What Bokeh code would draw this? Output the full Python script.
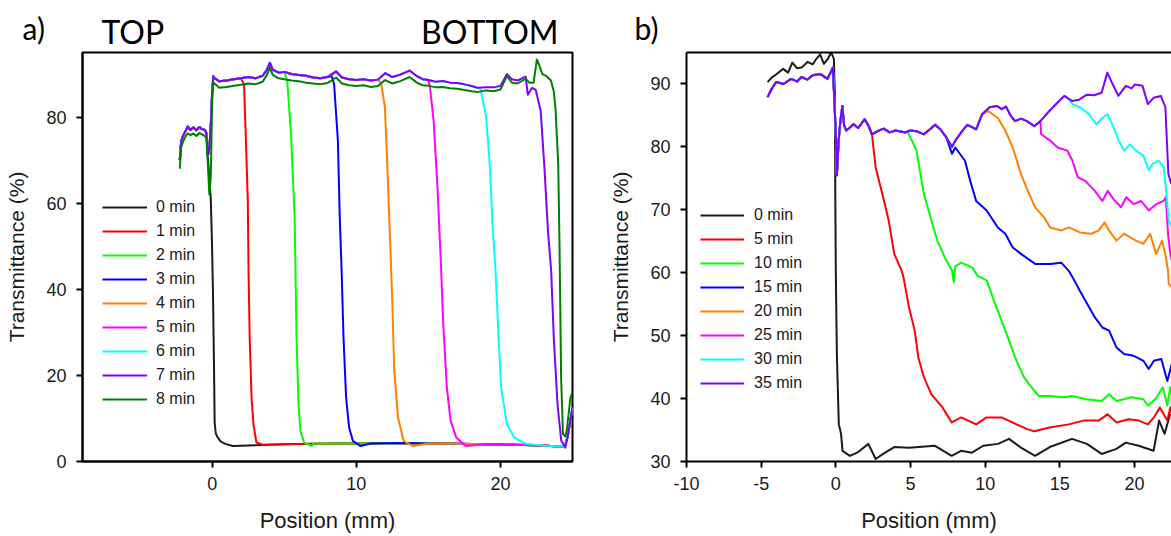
from bokeh.plotting import figure
from bokeh.models import Legend, LegendItem, FixedTicker, Range1d, LinearAxis
from bokeh.layouts import row, column
from bokeh.core.properties import value
from bokeh.embed import file_html
from bokeh.resources import INLINE

# ---------------- Panel a data ----------------
A_LABELS = ["0 min", "1 min", "2 min", "3 min", "4 min", "5 min", "6 min", "7 min", "8 min"]
A_COLORS = ["#1a1a1a", "#ff0000", "#00ff00", "#0000ff", "#ff8000", "#ff00ff", "#00ffff", "#8000ff", "#008000"]

# shared lead-in segment (x < 0)
A_LEAD_X = [-2.25, -2.15, -2.0, -1.85, -1.7, -1.5, -1.3, -1.1, -0.9, -0.7, -0.5, -0.4, -0.3, -0.2, -0.1, 0.0, 0.08]
A_LEAD_Y = [70.0, 74.5, 75.8, 76.8, 77.8, 77.0, 77.6, 76.9, 77.7, 77.2, 77.0, 76.2, 71.0, 72.5, 78.0, 86.0, 89.5]
A_GLEAD_Y = [68.0, 73.0, 74.5, 75.5, 76.2, 75.8, 76.2, 75.6, 76.3, 76.0, 75.6, 75.0, 69.0, 62.0, 66.0, 84.0, 88.0]

# shared high plateau
A_TOP_X = [0.1, 0.5, 1.0, 1.5, 2.0, 2.5, 3.0, 3.5, 3.8, 4.0, 4.2, 4.6, 5.0, 5.5, 6.0, 6.5, 7.0, 7.5,
           8.0, 8.6, 9.0, 9.5, 10.0, 10.5, 11.0, 11.5, 12.0, 12.5, 13.0, 13.7, 14.2, 14.6, 15.0, 15.5,
           16.0, 16.5, 17.0, 17.5, 18.0, 18.4, 19.0, 19.5, 20.0, 20.45, 20.8, 21.2, 21.75, 22.0]
A_TOP_Y = [89.2, 88.3, 88.5, 88.8, 89.0, 89.3, 89.0, 89.6, 91.0, 92.6, 91.0, 90.3, 90.5, 90.0, 89.8, 89.6, 89.2, 89.0,
           89.3, 90.6, 89.2, 88.8, 88.6, 88.8, 88.5, 88.7, 90.2, 89.3, 89.8, 90.8, 89.5, 88.8, 88.6, 88.2,
           88.4, 88.0, 87.9, 87.6, 87.2, 86.8, 86.9, 86.9, 87.2, 90.0, 88.8, 88.5, 89.4, 87.0]
A_GTOP_Y = [88.0, 86.8, 87.0, 87.3, 87.5, 87.8, 87.6, 88.2, 89.8, 91.5, 89.8, 89.0, 88.8, 88.5, 88.3, 88.0, 87.8, 87.6,
            87.9, 89.2, 87.8, 87.4, 87.2, 87.4, 87.0, 87.2, 88.6, 87.8, 88.3, 89.3, 88.0, 87.4, 87.3, 86.9,
            87.0, 86.7, 86.6, 86.3, 86.0, 85.8, 86.2, 86.0, 86.4, 89.5, 88.0, 87.8, 88.9, 88.0]

# shared low baseline after the front has passed
A_BASE_X = [1.5, 3.0, 5.0, 7.0, 9.0, 11.0, 13.0, 15.0, 17.0, 19.0, 21.0, 23.0, 24.0, 24.45, 24.65, 24.85, 25.0]
A_BASE_Y = [3.6, 3.8, 4.0, 4.1, 4.2, 4.2, 4.3, 4.2, 4.1, 4.0, 3.9, 3.7, 3.5, 3.6, 5.5, 9.5, 12.5]

# each curve's own drop (front)
A_DROP_X = [
    [-0.3, -0.2, -0.1, -0.01, 0.05, 0.1, 0.14, 0.17, 0.25, 0.38, 0.6, 0.91, 1.43],
    [2.21, 2.34, 2.47, 2.52, 2.60, 2.73, 2.86, 3.07, 3.51],
    [5.2, 5.47, 5.72, 5.78, 5.85, 5.99, 6.12, 6.38, 6.9],
    [8.3, 8.46, 8.72, 8.85, 8.98, 9.11, 9.29, 9.5, 9.76, 10.28],
    [11.72, 11.98, 12.11, 12.37, 12.5, 12.63, 12.89, 13.28, 13.93],
    [15.11, 15.36, 15.63, 15.88, 16.02, 16.28, 16.54, 16.93, 17.58],
    [18.62, 19.01, 19.27, 19.45, 19.66, 19.87, 20.05, 20.44, 20.96, 21.75],
    [21.9, 22.2, 22.45, 22.79, 23.05, 23.31, 23.52, 23.7, 23.96, 24.22, 24.5],
    [22.3, 22.53, 22.7, 22.9, 23.2, 23.5, 23.7, 23.83, 24.01, 24.1, 24.15, 24.21, 24.34, 24.5, 24.6, 24.86, 25.0],
]
A_DROP_Y = [
    [70.5, 66.0, 61.0, 50.0, 40.0, 28.0, 18.0, 9.0, 6.5, 5.6, 4.6, 4.1, 3.6],
    [87.6, 74.5, 60.6, 44.3, 28.8, 14.9, 8.7, 4.4, 3.9],
    [88.6, 76.0, 56.8, 44.3, 28.8, 13.3, 7.1, 4.4, 3.6],
    [89.5, 87.6, 74.6, 56.8, 44.3, 28.8, 14.9, 7.9, 4.8, 3.6],
    [87.8, 82.4, 72.3, 49.0, 36.6, 21.1, 10.3, 4.8, 3.6],
    [87.0, 79.3, 63.8, 45.2, 32.7, 17.2, 9.5, 5.6, 3.6],
    [86.5, 80.0, 68.4, 55.0, 44.3, 28.8, 17.2, 8.7, 5.6, 4.1],
    [85.2, 86.8, 86.3, 81.5, 68.4, 52.9, 44.3, 28.8, 13.3, 4.8, 3.2],
    [88.0, 93.4, 92.0, 90.0, 89.5, 88.5, 86.0, 81.5, 69.0, 50.0, 36.6, 19.5, 6.4, 5.8, 7.2, 14.9, 16.0],
]

# ---------------- Panel b data ----------------
B_LABELS = ["0 min", "5 min", "10 min", "15 min", "20 min", "25 min", "30 min", "35 min"]
B_COLORS = ["#1a1a1a", "#ff0000", "#00ff00", "#0000ff", "#ff8000", "#ff00ff", "#00ffff", "#8000ff"]

B_BLACK_X = [-4.57, -4.3, -4.0, -3.53, -3.2, -2.91, -2.6, -2.29, -1.9, -1.55, -1.3, -1.05, -0.8, -0.56, -0.31,
             -0.13, -0.06, -0.03, 0.0, 0.07, 0.2, 0.35, 0.45, 0.94, 1.43, 2.18, 2.67, 3.17, 3.91, 4.9, 6.64,
             7.76, 8.38, 9.12, 9.87, 10.86, 11.6, 12.34, 13.34, 14.33, 15.82, 16.81, 17.8, 18.79, 19.42,
             20.28, 21.28, 21.65, 22.02, 22.39]
B_BLACK_Y = [90.3, 91.0, 91.5, 92.4, 91.8, 93.4, 92.5, 92.6, 93.5, 93.1, 94.0, 94.7, 93.2, 93.9, 95.0,
             94.0, 88.0, 70.0, 60.0, 47.0, 35.9, 34.4, 31.7, 30.9, 31.4, 32.8, 30.4, 31.2, 32.3, 32.2, 32.5,
             30.9, 31.7, 31.4, 32.5, 32.8, 33.6, 32.3, 30.9, 32.3, 33.6, 32.8, 31.2, 32.0, 33.0,
             32.5, 31.7, 36.5, 34.4, 37.6]

B_LEAD_X = [-4.57, -4.3, -4.0, -3.5, -3.0, -2.6, -2.3, -1.9, -1.55, -1.05, -0.56, -0.31, -0.2, -0.13]
B_LEAD_Y = [87.9, 89.2, 90.3, 90.0, 90.8, 90.4, 91.1, 90.7, 91.4, 91.6, 90.8, 92.0, 92.6, 89.1]

B_TOP_X = [0.0, 0.07, 0.19, 0.3, 0.44, 0.55, 0.69, 0.9, 1.19, 1.5, 1.93, 2.2, 2.42, 2.8, 3.2, 3.6, 4.0,
           4.67, 5.0, 5.4, 5.9, 6.3, 6.65, 7.0, 7.4, 7.78, 8.0, 8.4, 8.8, 9.4, 9.8, 10.3, 10.8, 11.1,
           11.4, 11.7, 12.0, 12.4, 12.8, 13.3, 13.7, 14.3, 14.95, 15.3, 15.5]
B_TOP_Y = [82.0, 75.5, 81.0, 84.0, 86.5, 83.5, 82.6, 83.0, 83.6, 83.0, 84.4, 83.3, 82.0, 82.5, 82.9, 82.3, 82.6,
           82.3, 82.6, 82.5, 82.0, 82.8, 83.5, 82.8, 81.5, 80.0, 81.0, 82.3, 83.5, 82.8, 85.2, 86.3, 86.5, 86.0,
           86.4, 85.0, 84.1, 84.5, 84.1, 83.3, 84.1, 85.7, 87.3, 88.1, 87.8]

B_TAIL_X = [
    [2.67, 3.17, 3.54, 3.91, 4.41, 4.53, 4.9, 5.28, 5.53, 5.9, 6.39, 7.14, 7.76, 8.4, 9.4, 10.1, 11.1, 12.1,
     12.85, 13.3, 14.3, 15.6, 16.6, 17.6, 18.2, 18.8, 19.6, 20.3, 20.9, 21.3, 21.7, 22.2, 22.4, 22.5],
    [4.8, 5.4, 5.9, 6.4, 6.8, 7.3, 7.78, 7.9, 8.0, 8.4, 9.15, 9.5, 10.1, 10.6, 11.1, 11.6, 12.1, 12.6, 13.1,
     13.6, 14.3, 15.3, 15.8, 16.8, 17.8, 18.3, 18.8, 19.8, 20.6, 20.9, 21.4, 21.9, 22.2, 22.4, 22.5],
    [7.78, 8.0, 8.65, 9.0, 9.4, 10.1, 10.85, 11.35, 11.85, 12.4, 13.35, 14.35, 15.1, 15.6, 15.85, 16.35,
     16.85, 17.35, 17.85, 18.3, 18.8, 19.3, 19.95, 20.6, 20.95, 21.3, 21.8, 22.2, 22.5],
    [10.2, 10.85, 11.35, 11.85, 12.4, 12.75, 13.35, 13.95, 14.35, 15.1, 15.6, 16.35, 17.1, 17.6, 18.0, 18.3,
     18.8, 19.3, 20.1, 20.6, 21.05, 21.45, 21.85, 22.1, 22.25, 22.3, 22.5],
    [13.75, 14.35, 14.85, 15.5, 15.85, 16.2, 16.7, 17.35, 17.85, 18.2, 18.6, 19.1, 19.45, 19.95, 20.45,
     20.95, 21.45, 21.95, 22.1, 22.25, 22.4, 22.5],
    [15.85, 16.35, 16.95, 17.45, 17.85, 18.2, 18.6, 18.95, 19.3, 19.7, 20.1, 20.6, 20.95, 21.2, 21.6,
     21.95, 22.1, 22.3, 22.5],
    [15.82, 16.3, 16.81, 17.3, 17.8, 18.18, 18.55, 18.92, 19.42, 19.8, 20.03, 20.54, 20.9, 21.28, 21.77,
     22.07, 22.27, 22.47],
]
B_TAIL_Y = [
    [76.7, 72.0, 68.3, 63.0, 60.3, 59.3, 54.5, 50.8, 46.5, 43.4, 40.7, 38.6, 36.2, 37.0, 35.9, 37.0, 37.0, 35.9,
     35.1, 34.8, 35.4, 35.9, 36.5, 36.5, 37.5, 36.2, 36.7, 36.5, 35.9, 37.0, 38.6, 36.5, 38.6, 37.5],
    [82.5, 79.4, 72.5, 68.3, 65.1, 62.4, 60.3, 58.5, 61.0, 61.6, 60.8, 59.5, 58.8, 55.5, 52.4, 49.2, 46.0, 43.4, 41.8,
     40.4, 40.4, 40.2, 40.4, 39.9, 39.6, 40.7, 39.6, 40.2, 39.9, 38.9, 39.9, 41.8, 38.9, 41.8, 40.5],
    [78.9, 79.9, 77.8, 74.6, 71.4, 69.9, 67.2, 66.2, 64.0, 63.0, 61.4, 61.4, 61.6, 60.3, 59.3, 57.1,
     55.0, 52.9, 51.3, 50.8, 48.1, 47.1, 46.8, 46.0, 44.7, 46.0, 46.3, 42.8, 45.5],
    [85.7, 84.6, 82.6, 79.9, 75.7, 73.6, 70.4, 68.8, 67.2, 66.7, 67.2, 66.4, 66.2, 66.7, 68.0, 66.7,
     65.1, 66.2, 65.1, 64.6, 66.2, 63.0, 65.1, 62.5, 60.3, 58.2, 57.7],
    [82.0, 81.0, 79.9, 79.4, 77.8, 75.2, 74.6, 73.0, 71.4, 73.0, 71.7, 70.4, 72.0, 70.9, 71.4,
     69.9, 70.9, 71.4, 72.0, 66.1, 63.0, 62.0],
    [86.8, 86.3, 85.2, 83.6, 84.6, 85.2, 83.1, 81.0, 79.4, 80.4, 79.4, 78.6, 76.3, 77.3, 77.8,
     76.8, 73.6, 68.3, 67.2],
    [87.3, 87.5, 88.3, 88.2, 88.6, 91.8, 89.9, 88.1, 89.7, 89.3, 89.9, 89.7, 86.8, 87.8, 88.1,
     86.3, 75.7, 74.1],
]

A_XTICKS = [0, 10, 20]
A_YTICKS = [0, 20, 40, 60, 80]
B_XTICKS = [-10, -5, 0, 5, 10, 15, 20]
B_YTICKS = [30, 40, 50, 60, 70, 80, 90]

# header texts above the panels
HDR_TEXT = ["a)", "TOP", "BOTTOM", "b)"]

TXT = "#1a1a1a"
FONT = "Liberation Sans"
HEAD_FONT = "Lato"
LW = 2


def style(p, xticks, yticks, xlabel, ylabel):
    p.grid.visible = False
    p.background_fill_color = "white"
    p.border_fill_color = "white"
    for ax in (p.xaxis[0], p.yaxis[0]):
        ax.axis_line_width = 2
        ax.axis_line_color = "black"
        ax.major_tick_line_width = 2
        ax.major_tick_line_color = "black"
        ax.major_tick_in = 0
        ax.major_tick_out = 6
        ax.minor_tick_line_color = None
        ax.major_label_text_font = FONT
        ax.major_label_text_font_size = "18px"
        ax.major_label_text_color = TXT
        ax.axis_label_text_font = FONT
        ax.axis_label_text_font_style = "normal"
        ax.axis_label_text_color = TXT
    p.xaxis[0].axis_label_text_font_size = "22px"
    p.yaxis[0].axis_label_text_font_size = "21px"
    p.xaxis[0].ticker = FixedTicker(ticks=xticks)
    p.yaxis[0].ticker = FixedTicker(ticks=yticks)
    p.xaxis[0].major_label_overrides = {t: str(t) for t in xticks}
    p.xaxis[0].major_label_standoff = 9
    p.yaxis[0].major_label_standoff = 10
    p.xaxis[0].axis_label_standoff = 15
    p.yaxis[0].axis_label_standoff = 15
    p.xaxis[0].axis_label = xlabel
    p.yaxis[0].axis_label = ylabel


def make_legend(items, loc, gw, standoff):
    return Legend(items=items, location=loc, orientation="vertical",
                  background_fill_alpha=0, border_line_color=None,
                  padding=0, margin=0, spacing=0,
                  glyph_width=gw, glyph_height=24, label_height=24,
                  label_standoff=standoff, label_text_font=FONT,
                  label_text_font_size="16px", label_text_color=TXT)


# ---------------- header strip ----------------
hdr = figure(width=1171, height=50, x_range=Range1d(0, 1171), y_range=Range1d(50, 0),
             x_axis_type=None, y_axis_type=None, output_backend="svg", toolbar_location=None,
             min_border=0)
hdr.grid.visible = False
hdr.outline_line_color = None
hdr.text(x=[22], y=[27], text=[HDR_TEXT[0]], text_font=value(HEAD_FONT), text_font_size="30px",
         text_color="black", text_align="left", text_baseline="middle")
hdr.text(x=[101], y=[31], text=[HDR_TEXT[1]], text_font=value(HEAD_FONT), text_font_size="32px",
         text_color="black", text_align="left", text_baseline="middle")
hdr.text(x=[558], y=[31], text=[HDR_TEXT[2]], text_font=value(HEAD_FONT), text_font_size="32px",
         text_color="black", text_align="right", text_baseline="middle")
hdr.text(x=[634], y=[27], text=[HDR_TEXT[3]], text_font=value(HEAD_FONT), text_font_size="30px",
         text_color="black", text_align="left", text_baseline="middle")

# ---------------- Panel a ----------------
pa = figure(width=600, height=486, x_range=Range1d(-9, 25), y_range=Range1d(0, 95),
            output_backend="svg", toolbar_location=None,
            min_border_left=82, min_border_right=28, min_border_top=2, min_border_bottom=75)
pa.outline_line_color = "black"
pa.outline_line_width = 2
style(pa, A_XTICKS, A_YTICKS, "Position (mm)", "Transmittance (%)")

a_items = []
for i, (lab, col) in enumerate(zip(A_LABELS, A_COLORS)):
    dx, dy = A_DROP_X[i], A_DROP_Y[i]
    if i == 0:
        xs = [x for x in A_LEAD_X if x <= -0.4]
        ys = [y for x, y in zip(A_LEAD_X, A_LEAD_Y) if x <= -0.4]
        xs += dx
        ys += dy
    elif i == 8:
        xs = list(A_LEAD_X) + [x for x in A_TOP_X if x < dx[0]] + dx
        ys = list(A_GLEAD_Y) + [y for x, y in zip(A_TOP_X, A_GTOP_Y) if x < dx[0]] + dy
    else:
        xs = list(A_LEAD_X) + [x for x in A_TOP_X if x < dx[0]] + dx
        ys = list(A_LEAD_Y) + [y for x, y in zip(A_TOP_X, A_TOP_Y) if x < dx[0]] + dy
    if i != 8:
        xs += [x for x in A_BASE_X if x > dx[-1]]
        ys += [y for x, y in zip(A_BASE_X, A_BASE_Y) if x > dx[-1]]
    r = pa.line(xs, ys, line_color=col, line_width=LW, line_join="round")
    a_items.append(LegendItem(label=lab, renderers=[r]))

pa.add_layout(make_legend(a_items, (20, 50), 45, 9))

# ---------------- Panel b ----------------
pb = figure(width=571, height=486, x_range=Range1d(-10, 22.48), y_range=Range1d(30, 95),
            output_backend="svg", toolbar_location=None,
            min_border_left=86, min_border_right=0, min_border_top=2, min_border_bottom=75)
pb.outline_line_color = None
style(pb, B_XTICKS, B_YTICKS, "Position (mm)", "Transmittance (%)")
top_axis = LinearAxis(ticker=FixedTicker(ticks=[]), axis_line_width=2, axis_line_color="black",
                      major_tick_in=0, major_tick_out=0, major_label_standoff=0,
                      major_tick_line_color=None, minor_tick_line_color=None,
                      minor_tick_in=0, minor_tick_out=0)
pb.add_layout(top_axis, "above")

b_items = []
r = pb.line(B_BLACK_X, B_BLACK_Y, line_color=B_COLORS[0], line_width=LW, line_join="round")
b_items.append(LegendItem(label=B_LABELS[0], renderers=[r]))
for i in range(1, 8):
    tx, ty = B_TAIL_X[i - 1], B_TAIL_Y[i - 1]
    xs = list(B_LEAD_X) + [x for x in B_TOP_X if x < tx[0]] + tx
    ys = list(B_LEAD_Y) + [y for x, y in zip(B_TOP_X, B_TOP_Y) if x < tx[0]] + ty
    r = pb.line(xs, ys, line_color=B_COLORS[i], line_width=LW, line_join="round")
    b_items.append(LegendItem(label=B_LABELS[i], renderers=[r]))

pb.add_layout(make_legend(b_items, (14, 66), 44, 10))

layout = column(hdr, row(pa, pb))
open("out.html", "w").write(file_html(layout, INLINE))
